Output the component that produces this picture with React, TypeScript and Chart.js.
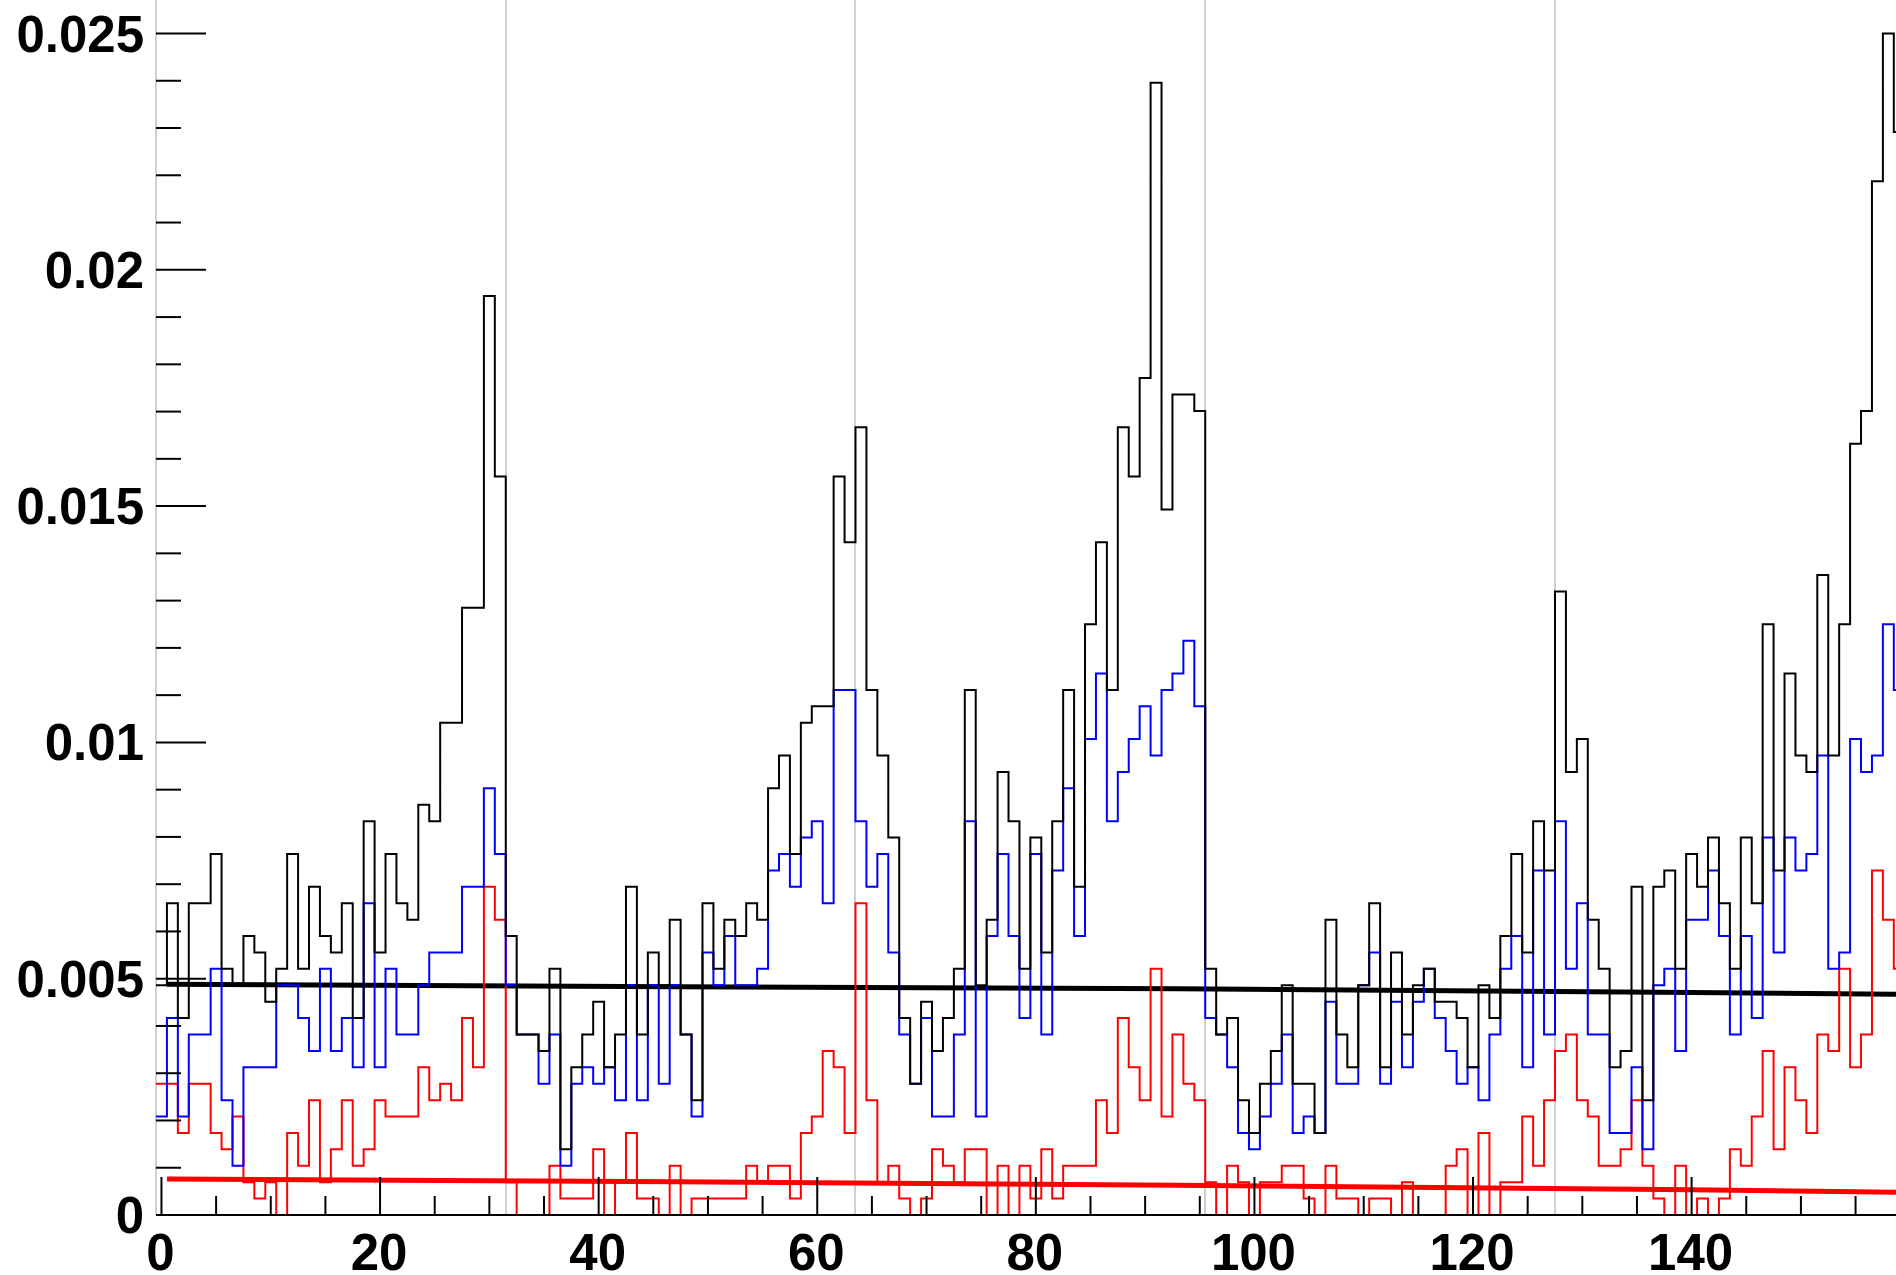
import React, { useEffect, useRef } from "react";
import { Chart, registerables } from "chart.js";

Chart.register(...registerables);

// one count corresponds to this normalised height
const NORM = 1 / 2880;

// bin contents (counts), bins centred on 0,1,2,...,159
const allCounts = [
  14, 19, 12, 19, 19, 22, 15, 14, 17, 16, 13, 15, 22, 15, 20, 17, 16, 19, 12, 24,
  16, 22, 19, 18, 25, 24, 30, 30, 37, 37, 56, 45, 17, 11, 11, 10, 15, 4, 9, 11,
  13, 9, 11, 20, 11, 16, 14, 18, 11, 7, 19, 15, 18, 17, 19, 18, 26, 28, 22, 30,
  31, 31, 45, 41, 48, 32, 28, 23, 12, 8, 13, 10, 12, 15, 32, 14, 18, 27, 24, 15,
  23, 16, 24, 32, 20, 36, 41, 32, 48, 45, 51, 69, 43, 50, 50, 49, 15, 11, 12, 7,
  5, 8, 10, 14, 8, 8, 5, 18, 11, 9, 14, 19, 9, 16, 11, 14, 15, 13, 13, 12,
  9, 14, 12, 17, 22, 16, 24, 21, 38, 27, 29, 18, 15, 9, 10, 20, 7, 20, 21, 15,
  22, 20, 23, 19, 15, 23, 19, 36, 21, 33, 28, 27, 39, 28, 36, 47, 49, 63, 72, 66,
];

const blueCounts = [
  6, 12, 6, 11, 11, 15, 7, 3, 9, 9, 9, 14, 14, 12, 10, 15, 10, 12, 9, 19,
  9, 15, 11, 11, 14, 16, 16, 16, 20, 20, 26, 22, 14, 11, 11, 8, 11, 3, 8, 9,
  8, 9, 7, 14, 7, 14, 8, 14, 11, 6, 16, 14, 17, 14, 14, 15, 21, 22, 20, 23,
  24, 19, 32, 32, 24, 20, 22, 16, 11, 8, 12, 6, 6, 11, 24, 6, 17, 22, 17, 12,
  22, 11, 21, 26, 17, 29, 33, 24, 27, 29, 31, 28, 32, 33, 35, 31, 12, 11, 9, 5,
  4, 6, 8, 11, 5, 6, 5, 13, 8, 8, 14, 16, 8, 13, 9, 13, 15, 12, 10, 8,
  9, 7, 11, 15, 17, 9, 21, 11, 24, 15, 19, 11, 11, 5, 5, 9, 4, 14, 15, 10,
  18, 18, 21, 17, 11, 17, 12, 23, 16, 23, 21, 22, 28, 15, 16, 29, 27, 28, 36, 32,
];

const redCounts = [
  8, 8, 5, 8, 8, 5, 4, 6, 2, 1, 2, 0, 5, 3, 7, 2, 4, 7, 3, 4,
  7, 6, 6, 6, 9, 7, 8, 7, 12, 9, 20, 18, 2, 0, 0, 0, 3, 1, 1, 1,
  4, 0, 2, 5, 1, 1, 0, 3, 0, 1, 1, 1, 1, 1, 3, 2, 3, 3, 1, 5,
  6, 10, 9, 5, 19, 7, 2, 3, 1, 0, 1, 4, 3, 2, 4, 4, 0, 3, 0, 3,
  1, 4, 1, 3, 3, 3, 7, 5, 12, 9, 7, 15, 6, 11, 8, 7, 2, 0, 3, 2,
  0, 2, 2, 3, 3, 1, 0, 3, 1, 1, 0, 1, 1, 0, 2, 0, 0, 0, 3, 4,
  0, 5, 0, 2, 2, 6, 3, 7, 10, 11, 7, 6, 3, 3, 4, 7, 3, 1, 0, 3,
  0, 1, 0, 1, 4, 3, 6, 10, 4, 9, 7, 5, 11, 10, 15, 9, 11, 21, 18, 15,
];

// fitted curves
const blackFitX = [0.5, 47, 93, 140, 159.5];
const blackFitY = [0.00488, 0.00483, 0.00479, 0.00471, 0.00467];
const redFitX = [0.5, 47, 93, 140, 159.5];
const redFitY = [0.00076, 0.000705, 0.00063, 0.000535, 0.00048];

// group dividers
const dividerX = [31.5, 63.5, 95.5, 127.5];

// axis ticks
const xMajorTicks = [0, 20, 40, 60, 80, 100, 120, 140];
const xTickLabels = ["0", "20", "40", "60", "80", "100", "120", "140"];
const yMajorTicks = [0, 0.005, 0.01, 0.015, 0.02, 0.025];
const yTickLabels = ["0", "0.005", "0.01", "0.015", "0.02", "0.025"];
const X_MINOR_STEP = 5;
const Y_MINOR_STEP = 0.001;

const X_MIN = -0.5;
const X_MAX = 158.7;
const Y_MIN = 0;
const Y_MAX = 0.025709;

function histPoints(counts: number[]) {
  const pts: { x: number; y: number }[] = [];
  counts.forEach((c, i) => {
    const v = c * NORM;
    pts.push({ x: i - 0.5, y: v });
    pts.push({ x: i + 0.5, y: v });
  });
  return pts;
}

function curvePoints(xs: number[], ys: number[]) {
  return xs.map((x, i) => ({ x, y: ys[i] }));
}

const FONT = "bold 51px 'Liberation Sans', Arial, Helvetica, sans-serif";

const framePlugin = {
  id: "rootFrame",
  beforeDatasetsDraw(chart: any) {
    const { ctx, chartArea } = chart;
    const xs = chart.scales.x;
    ctx.save();
    ctx.strokeStyle = "#cfcfcf";
    ctx.lineWidth = 2;
    const lines = [X_MIN, ...dividerX];
    lines.forEach((v) => {
      const px = Math.round(xs.getPixelForValue(v));
      ctx.beginPath();
      ctx.moveTo(px, chartArea.top);
      ctx.lineTo(px, chartArea.bottom);
      ctx.stroke();
    });
    ctx.restore();
  },
  afterDatasetsDraw(chart: any) {
    const { ctx, chartArea } = chart;
    const xs = chart.scales.x;
    const ys = chart.scales.y;
    const y0 = ys.getPixelForValue(0);
    const xLeft = xs.getPixelForValue(X_MIN);
    ctx.save();
    ctx.strokeStyle = "#000";
    ctx.lineWidth = 2;
    // x axis line
    ctx.beginPath();
    ctx.moveTo(xLeft, y0);
    ctx.lineTo(chartArea.right, y0);
    ctx.stroke();
    // x ticks
    for (let v = 0; v <= X_MAX; v += X_MINOR_STEP) {
      const px = xs.getPixelForValue(v);
      const major = xMajorTicks.includes(v);
      ctx.beginPath();
      ctx.moveTo(px, y0);
      ctx.lineTo(px, y0 - (major ? 38 : 19));
      ctx.stroke();
    }
    // y ticks
    for (let k = 0; k * Y_MINOR_STEP <= Y_MAX; k++) {
      const v = k * Y_MINOR_STEP;
      const py = ys.getPixelForValue(v);
      const major = k % 5 === 0;
      ctx.beginPath();
      ctx.moveTo(xLeft, py);
      ctx.lineTo(xLeft + (major ? 50 : 25), py);
      ctx.stroke();
    }
    // labels
    ctx.fillStyle = "#000";
    ctx.font = FONT;
    ctx.textAlign = "center";
    ctx.textBaseline = "alphabetic";
    xMajorTicks.forEach((v, i) => {
      ctx.fillText(xTickLabels[i], xs.getPixelForValue(v) - 1, y0 + 55);
    });
    ctx.textAlign = "right";
    yMajorTicks.forEach((v, i) => {
      ctx.fillText(yTickLabels[i], xLeft - 12, ys.getPixelForValue(v) + 18);
    });
    ctx.restore();
  },
};

export default function App() {
  const canvasRef = useRef<HTMLCanvasElement | null>(null);

  useEffect(() => {
    const canvas = canvasRef.current;
    if (!canvas) return;
    const common = {
      pointRadius: 0,
      pointHoverRadius: 0,
      fill: false,
      tension: 0,
      borderJoinStyle: "miter" as const,
      borderCapStyle: "butt" as const,
    };
    const chart = new Chart(canvas, {
      type: "line",
      data: {
        datasets: [
          { ...common, label: "all", data: histPoints(allCounts), borderColor: "#000000", borderWidth: 2 },
          { ...common, label: "selected", data: histPoints(blueCounts), borderColor: "#0000ff", borderWidth: 2 },
          { ...common, label: "background", data: histPoints(redCounts), borderColor: "#ff0000", borderWidth: 2 },
          { ...common, label: "fit all", data: curvePoints(blackFitX, blackFitY), borderColor: "#000000", borderWidth: 5 },
          { ...common, label: "fit background", data: curvePoints(redFitX, redFitY), borderColor: "#ff0000", borderWidth: 5 },
        ],
      },
      options: {
        animation: false,
        responsive: false,
        devicePixelRatio: 1,
        events: [],
        layout: { padding: { left: 156, right: 0, top: 0, bottom: 60 } },
        plugins: { legend: { display: false }, tooltip: { enabled: false } },
        scales: {
          x: { type: "linear", min: X_MIN, max: X_MAX, display: false },
          y: { type: "linear", min: Y_MIN, max: Y_MAX, display: false },
        },
      },
      plugins: [framePlugin],
    });
    return () => chart.destroy();
  }, []);

  return (
    <div style={{ position: "fixed", left: 0, top: 0, width: 1896, height: 1275, background: "#fff" }}>
      <canvas ref={canvasRef} width={1896} height={1275} style={{ display: "block" }} />
    </div>
  );
}
